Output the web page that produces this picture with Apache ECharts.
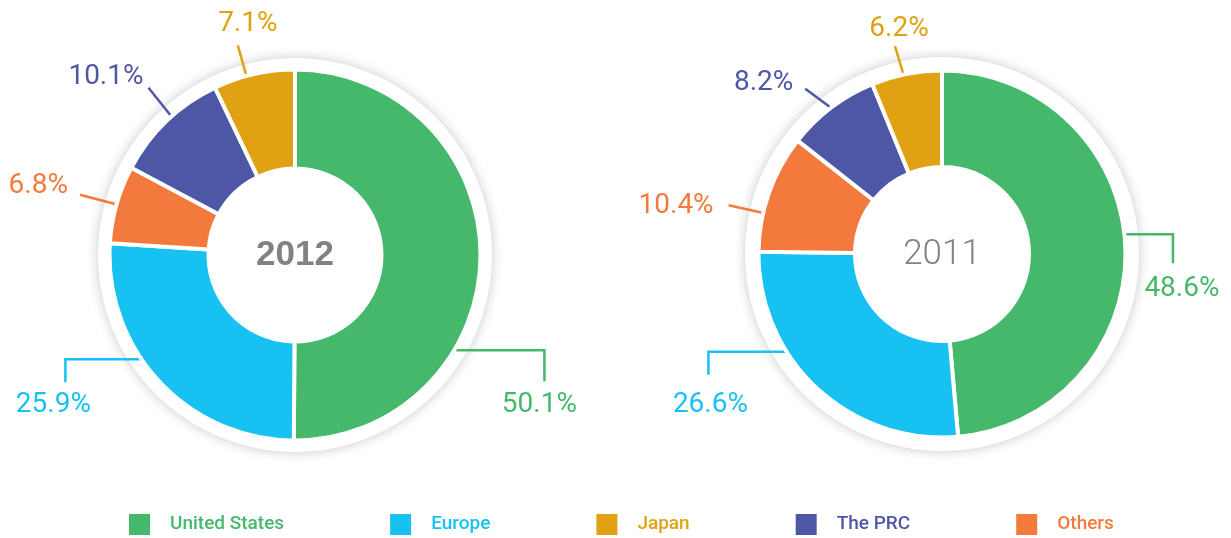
<!DOCTYPE html>
<html lang="en">
<head>
<meta charset="UTF-8">
<title>Sales by region 2012 / 2011</title>
<script src="https://cdn.jsdelivr.net/npm/echarts@6/dist/echarts.min.js"></script>
<style>body{margin:0;background:#fff}</style>
</head>
<body>
<div id="main" style="width:1231px;height:538px;"></div>
<script>
// slices run clockwise from 12 o'clock
var regions = ['United States', 'Europe', 'Others', 'The PRC', 'Japan'];
var share2012 = [50.1, 25.9, 6.8, 10.1, 7.1];
var share2011 = [48.6, 26.6, 10.4, 8.2, 6.2];
var legendOrder = ['United States', 'Europe', 'Japan', 'The PRC', 'Others'];
var regionColors = ['#45b86b', '#17c1f2', '#f37a3c', '#4e56a6', '#e0a113'];

var labelFont = "Roboto, 'Liberation Sans', sans-serif";

// leader lines: start-angle shift from slice middle (deg), line segments, label offset from line end
var leaders2012 = [
    {shift: 31, segs: [[92, 0], [0, 31]], off: [-5, 24], align: 'center'},
    {shift: 8.5, segs: [[-78, 0], [0, 23]], off: [-12, 23], align: 'center'},
    {shift: 0, segs: [[-38, -10]], off: [-12, -9], align: 'right'},
    {shift: 2, segs: [[-24, -30]], off: [-5, -11], align: 'right'},
    {shift: -2.4, segs: [[-9, -32]], off: [10, -21], align: 'center'}
];
var leaders2011 = [
    {shift: -3.7, segs: [[50, 0], [0, 29]], off: [9, 26], align: 'center'},
    {shift: 14.7, segs: [[-80, 0], [0, 23]], off: [2, 30], align: 'center'},
    {shift: -6.5, segs: [[-36, -8]], off: [-15, 1], align: 'right'},
    {shift: 0, segs: [[-27, -20]], off: [-12, -6], align: 'right'},
    {shift: -0.9, segs: [[-9, -30]], off: [4, -17], align: 'center'}
];

function leaderLayout(cx, cy, r, values, spec) {
    var total = values.reduce(function (a, b) { return a + b; }, 0);
    return function (params) {
        var i = params.dataIndex, s = spec[i];
        var before = 0;
        for (var k = 0; k < i; k++) before += values[k];
        var ang = ((before + values[i] / 2) / total * 360 + s.shift) * Math.PI / 180;
        var x = cx + r * Math.sin(ang), y = cy - r * Math.cos(ang);
        var pts = [[x, y]];
        s.segs.forEach(function (d) {
            x += d[0];
            y += d[1];
            pts.push([x, y]);
        });
        return {
            x: x + s.off[0],
            y: y + s.off[1],
            align: s.align,
            verticalAlign: 'middle',
            labelLinePoints: pts
        };
    };
}

function plate(cx, cy) {
    return {
        type: 'pie',
        center: [cx, cy],
        radius: [0, 197],
        silent: true,
        z: 1,
        label: {show: false},
        labelLine: {show: false},
        itemStyle: {color: '#fff', shadowBlur: 12, shadowColor: 'rgba(0,0,0,0.22)'},
        data: [{name: '', value: 1}]
    };
}

function donut(cx, cy, radius, lineR, values, leaders) {
    return {
        type: 'pie',
        center: [cx, cy],
        radius: radius,
        startAngle: 90,
        clockwise: true,
        avoidLabelOverlap: false,
        z: 2,
        itemStyle: {borderColor: '#fff', borderWidth: 4},
        label: {
            show: true,
            position: 'outside',
            formatter: function (p) { return p.value.toFixed(1) + '%'; },
            fontSize: 28,
            fontFamily: labelFont,
            color: 'inherit'
        },
        labelLine: {show: true, lineStyle: {width: 2.5}},
        emphasis: {disabled: true},
        labelLayout: leaderLayout(cx, cy, lineR, values, leaders),
        data: regions.map(function (n, i) {
            return {name: n, value: values[i], itemStyle: {color: regionColors[i]}};
        })
    };
}

var myChart = echarts.init(document.getElementById('main'));
myChart.setOption({
    animation: false,
    backgroundColor: '#fff',
    legend: {
        left: 127,
        top: 512,
        padding: 0,
        icon: 'rect',
        itemWidth: 23,
        itemHeight: 23,
        itemGap: 104,
        selectedMode: false,
        textStyle: {fontFamily: labelFont, fontSize: 19, fontWeight: 500, padding: [0, 0, 0, 14]},
        data: legendOrder.map(function (n) {
            return {name: n, textStyle: {color: regionColors[regions.indexOf(n)]}};
        })
    },
    graphic: [
        {type: 'text', x: 295, y: 255, z: 10, style: {text: '2012', align: 'center', verticalAlign: 'middle',
            fill: '#808285', font: "bold 35px 'Liberation Sans', Arial, sans-serif"}},
        {type: 'text', x: 942, y: 255, z: 10, style: {text: '2011', align: 'center', verticalAlign: 'middle',
            fill: '#808285', font: "300 35px Roboto, 'Liberation Sans', sans-serif"}}
    ],
    series: [
        plate(295, 255),
        donut(295, 255, [86.5, 185.5], 184, share2012, leaders2012),
        plate(942, 254),
        donut(942, 254, [87, 183.5], 182, share2011, leaders2011)
    ]
});
</script>
</body>
</html>
